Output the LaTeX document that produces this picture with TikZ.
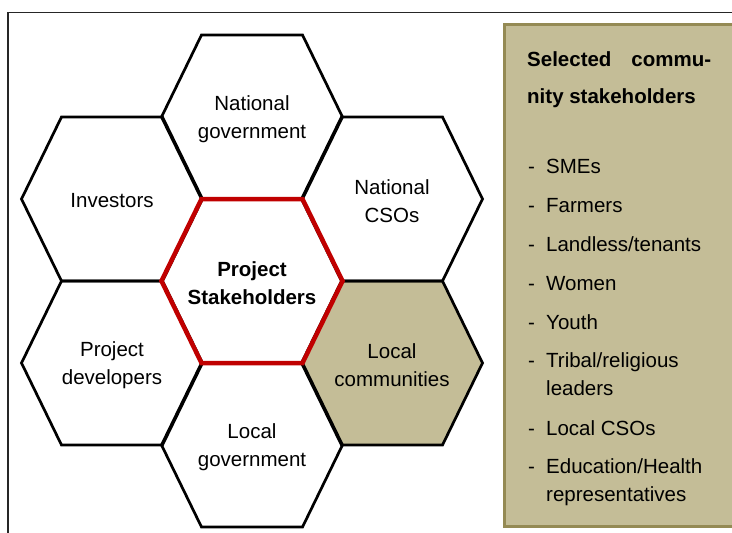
\documentclass[tikz,border=0pt]{standalone}
\usepackage{fontspec}
\setmainfont{Liberation Sans}
\definecolor{tanfill}{HTML}{C4BD97}
\definecolor{tanline}{HTML}{948A54}
\definecolor{hexred}{HTML}{C00000}
% flat-topped cell around a centre point
\newcommand{\hexagon}[1]{(#1) +(-50.5,-82) -- +(50.5,-82) -- +(90.5,0) -- +(50.5,82) -- +(-50.5,82) -- +(-90.5,0) -- cycle}

\begin{document}
\begin{tikzpicture}[x=1pt,y=-1pt,font=\fontsize{20.5}{28}\selectfont]
            \tikzstyle{hex}=[draw=black, line width=2.7pt, line join=miter]
            \tikzstyle{hexlabel}=[align=center, inner sep=0pt, yshift=-2pt]
            \tikzstyle{item}=[anchor=base west, align=left, inner sep=0pt]

            \useasboundingbox (0,0) rectangle (732,533);
            \draw[line width=1.3pt, black!85] (8,545) -- (8,12.5) -- (745,12.5);

            % side panel
            \draw[fill=tanfill, draw=tanline, line width=3pt] (504.5,24.5) rectangle (745,526);

            \coordinate (natgov) at (252,117);
            \coordinate (investors) at (112,199);
            \coordinate (natcso) at (392,199);
            \coordinate (core) at (252,281);
            \coordinate (devs) at (112,363);
            \coordinate (localcom) at (392,363);
            \coordinate (localgov) at (252,445);

            \fill[tanfill] \hexagon{localcom};
            \foreach \h in {natgov,investors,natcso,devs,localcom,localgov}
              \draw[hex] \hexagon{\h};
            \draw[hex, draw=hexred, line width=4.5pt] \hexagon{core};

            \node[hexlabel] (natgovtext) at (natgov) {National\\government};
            \node[hexlabel] (investorstext) at (investors) {Investors};
            \node[hexlabel] (natcsotext) at (natcso) {National\\CSOs};
            \node[hexlabel, font=\fontsize{20.5}{28}\selectfont\bfseries] (coretext) at (core) {Project\\Stakeholders};
            \node[hexlabel] (devstext) at (devs) {Project\\developers};
            \node[hexlabel] (localcomtext) at (localcom) {Local\\communities};
            \node[hexlabel] (localgovtext) at (localgov) {Local\\government};

            \node[item] (title1) at (527,66) {\bfseries\makebox[184pt][s]{Selected commu-}};
            \node[item] (title2) at (527,103) {\bfseries nity stakeholders};

            % two-line items sit on their last baseline
            \node[item] (dash1) at (528,173) {-};
            \node[item] (smes) at (546,173) {SMEs};
            \node[item] (dash2) at (528,212) {-};
            \node[item] (farmers) at (546,212) {Farmers};
            \node[item] (dash3) at (528,251) {-};
            \node[item] (landless) at (546,251) {Landless/tenants};
            \node[item] (dash4) at (528,290) {-};
            \node[item] (women) at (546,290) {Women};
            \node[item] (dash5) at (528,329) {-};
            \node[item] (youth) at (546,329) {Youth};
            \node[item] (dash6) at (528,367) {-};
            \node[item] (tribal) at (546,395) {Tribal/religious\\leaders};
            \node[item] (dash7) at (528,435) {-};
            \node[item] (localcso) at (546,435) {Local CSOs};
            \node[item] (dash8) at (528,473) {-};
            \node[item] (education) at (546,501) {Education/Health\\representatives};
          \end{tikzpicture}
\end{document}
